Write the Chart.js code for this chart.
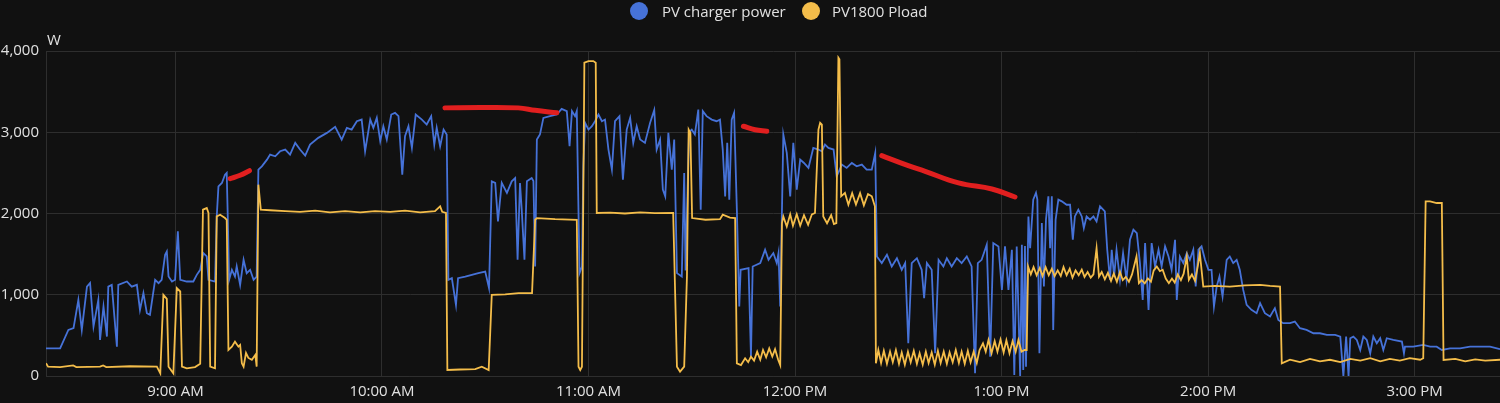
<!DOCTYPE html>
<html>
<head>
<meta charset="utf-8">
<script src="https://cdn.jsdelivr.net/npm/chart.js@4.4.1/dist/chart.umd.min.js"></script>
<style>
html,body{margin:0;padding:0;background:#111111;}
#wrap{position:relative;width:1500px;height:403px;overflow:hidden;background:#111111;}
#c{position:absolute;left:0;top:0;}
.lg-dot{position:absolute;top:2px;width:18px;height:18px;border-radius:50%;}
.lg-txt{position:absolute;top:0;height:22px;line-height:22px;font-family:"Open Sans",sans-serif;font-size:15px;color:#e1e1e1;white-space:nowrap;}
</style>
</head>
<body>
<div id="wrap">
  <canvas id="c" width="1500" height="403"></canvas>
  <div id="legend"></div>
</div>
<script>
// ---------------- DATA (times are minutes after 08:00, values in W) ----------------
const seriesNames = ["PV charger power", "PV1800 Pload"];
const unitLabel = "W";
const axisStartMin = 22.4;   // 8:22 AM
const axisEndMin = 444.8;    // 3:24 PM
const hourTickMin = [60, 120, 180, 240, 300, 360, 420]; // 9:00 AM ... 3:00 PM
const yTicks = [0, 1000, 2000, 3000, 4000];

const pvChargerMin = [
22.4,26.5,28.9,30.4,31.8,32.8,34.3,35.2,36.2,37.6,
38.1,39.1,40.1,40.5,41.5,43.0,43.4,45.9,47.3,48.8,
49.7,50.7,51.7,52.6,54.1,55.1,56.0,57.0,57.5,58.0,
59.0,59.9,60.7,61.4,63.3,65.2,66.2,67.2,68.1,69.1,
69.6,71.5,72.0,72.5,73.5,74.4,74.9,75.2,75.6,76.4,
77.3,77.8,78.8,79.8,80.7,81.7,82.7,83.6,84.1,85.1,
86.6,87.5,89.0,90.4,91.9,93.3,94.8,96.2,97.7,99.1,
101.5,104.0,106.4,108.3,109.8,111.2,112.7,114.1,115.1,116.6,
117.5,118.5,119.5,120.4,121.4,122.7,123.8,124.8,125.9,126.7,
127.7,128.7,129.8,131.6,133.0,134.3,135.2,135.9,136.9,137.9,
138.8,139.3,140.3,141.5,142.1,144.2,146.1,148.0,150.0,151.1,
151.9,152.9,153.7,154.8,156.3,157.7,158.7,159.4,160.1,160.6,
161.4,162.1,163.5,164.0,164.5,165.0,165.9,166.9,168.8,170.8,
172.2,173.7,174.5,175.2,176.1,176.6,177.4,178.1,178.5,179.0,
180.0,181.0,181.9,182.9,183.9,184.8,185.8,186.8,187.7,189.0,
190.0,191.1,192.1,193.0,194.0,195.0,196.4,197.9,199.1,199.8,
200.8,201.6,202.3,203.2,204.2,204.9,205.7,207.1,207.8,208.2,
209.2,210.0,210.9,211.9,212.6,213.2,214.3,215.8,217.2,218.2,
219.0,219.7,220.3,220.9,221.6,222.3,223.1,223.8,224.2,226.5,
227.2,227.7,229.9,231.3,232.3,233.7,234.7,235.2,235.7,236.6,
237.6,238.6,239.5,240.5,241.5,242.6,243.9,245.3,246.8,247.8,
248.7,249.7,251.2,252.1,253.6,255.0,256.5,257.9,259.4,260.8,
262.3,263.3,263.8,265.2,266.7,268.1,269.6,271.0,272.0,272.9,
273.9,275.4,276.8,277.5,278.3,279.7,280.7,281.7,283.1,284.1,
285.5,287.0,288.4,289.9,291.3,292.3,293.1,294.2,295.7,296.7,
297.6,299.1,300.1,301.0,302.0,303.0,303.7,304.4,305.4,305.9,
306.3,306.8,307.1,307.8,308.3,309.2,310.0,310.4,311.0,311.7,
312.3,312.9,313.6,314.1,314.6,315.0,315.7,316.5,317.5,318.9,
319.9,320.7,321.3,322.3,323.3,323.9,324.7,325.7,326.7,327.6,
328.6,330.0,330.7,331.5,332.0,332.7,333.4,334.4,335.3,336.3,
337.3,338.3,339.3,340.2,341.0,341.7,342.7,343.6,344.6,345.6,
346.5,347.5,348.5,349.4,350.4,350.9,351.8,352.8,353.8,354.7,
355.7,356.4,357.2,358.1,359.1,360.1,361.0,361.7,362.5,363.3,
364.2,365.4,366.3,367.3,368.3,369.2,370.2,371.2,372.6,374.1,
375.1,376.5,378.0,379.4,380.4,381.8,383.8,385.2,386.7,388.6,
390.6,392.5,394.5,396.9,398.4,399.3,400.1,400.8,401.3,402.2,
403.2,404.2,405.1,406.1,407.1,408.0,409.0,410.0,410.9,411.9,
413.8,416.3,416.9,417.2,419.6,422.5,424.5,426.4,427.9,430.3,
433.2,436.1,439.0,441.9,444.8
];
const pvChargerW = [
340,340,567,590,937,567,1100,1145,608,937,
444,855,485,1100,1122,361,1122,1163,1100,1122,
814,1020,773,752,1184,1143,1184,1492,1533,1224,
1163,1184,1780,1184,1163,1163,1245,1307,1513,1472,
1184,1163,1964,2334,2376,2478,2499,1964,1184,1307,
1224,1348,1122,1430,1266,1307,1184,1224,2540,2581,
2663,2725,2704,2766,2787,2725,2869,2787,2713,2848,
2931,2992,3066,2910,3054,3033,3136,3156,2766,3156,
3054,3177,2890,3074,2910,3218,3239,3198,2478,2951,
3074,2807,3218,3156,3095,3198,2848,3054,2828,3033,
2972,1184,1204,875,1204,1224,1245,1266,1286,1081,
2396,2376,1903,2376,2253,2396,2437,1430,2376,2047,
1430,2396,2437,2400,1348,2910,2972,3177,3198,3218,
3288,3260,2828,3260,3198,3260,1266,1348,2581,3116,
3033,3074,3136,3218,3136,3156,2787,2540,3136,3198,
2417,3033,3177,2869,3074,2910,2869,3116,3272,2787,
2910,2294,2211,2992,2540,2910,1266,1224,2499,1300,
3000,3033,2972,3280,2047,3260,3198,3156,3136,3156,
2787,2211,2869,2170,3156,3239,2047,855,1307,1328,
238,1348,1390,1554,1430,1513,1390,1513,855,2972,
2746,2211,2869,2294,2663,2622,2561,2807,2787,2766,
2848,2807,2787,2458,2602,2561,2622,2581,2602,2540,
2540,2746,1471,1390,1492,1348,1450,1307,1390,403,
1390,1450,1307,958,1390,1307,280,1430,1348,1450,
1348,1450,1390,1471,1348,33,1390,1430,1615,238,
1636,1595,1060,1595,1060,1554,12,1595,0,1615,
74,1600,115,1964,1574,2170,2253,2170,280,1882,
1101,1923,2211,1574,2211,567,1923,2170,2150,2108,
2108,1677,1964,2047,1964,1821,1964,1923,1964,1903,
2088,2027,1554,1184,1554,1225,1554,1184,1513,1184,
1677,1800,1759,1390,937,1636,814,1636,1348,1554,
1348,1595,1471,1307,1677,937,1471,1390,1513,1430,
1554,1101,1554,1595,1430,1307,1307,855,1101,1224,
978,1430,1471,1390,1430,1307,1060,875,814,773,
896,773,732,835,690,650,650,670,588,567,
526,526,506,506,485,0,485,0,465,485,
444,320,485,444,280,485,403,465,320,465,
444,424,280,361,361,382,361,361,320,341,
341,361,361,361,330
];

const ploadMin = [
22.4,23.0,26.5,30.3,31.2,38.1,39.0,39.9,46.8,54.6,
55.6,56.5,57.5,58.0,59.4,60.4,61.4,61.9,63.3,65.7,
67.2,68.0,69.1,69.6,70.1,71.5,72.0,73.0,74.4,74.9,
75.4,76.4,77.3,78.3,78.8,79.3,79.8,80.5,81.2,82.2,
83.2,83.6,84.1,84.8,87.5,91.9,96.2,100.6,104.9,109.3,
113.7,118.0,122.4,126.7,131.1,135.4,136.9,137.5,138.6,139.0,
142.7,147.1,149.0,151.0,151.9,155.8,159.7,163.6,164.5,165.0,
170.3,176.6,177.1,177.6,178.1,178.8,180.0,181.4,182.1,182.4,
186.3,190.6,195.0,199.3,204.6,205.7,206.6,207.8,208.6,209.1,
209.6,210.1,214.0,218.2,219.0,221.1,222.6,223.1,224.3,225.5,
226.4,227.2,228.1,229.0,229.9,230.7,231.6,232.5,233.4,234.2,
235.1,235.7,236.2,236.6,237.6,238.6,239.4,240.5,241.5,242.6,
243.8,244.9,245.8,246.8,247.3,247.8,248.2,249.3,250.5,251.3,
252.0,252.6,252.9,253.4,254.5,255.5,256.6,257.7,258.9,260.0,
261.2,262.3,263.2,263.5,264.2,265.0,265.8,266.7,267.6,268.4,
269.3,270.2,271.0,271.9,272.8,273.6,274.5,275.4,276.2,277.1,
278.0,278.8,279.7,280.6,281.5,282.3,283.2,284.1,284.9,285.8,
286.7,287.6,288.4,289.3,290.2,291.0,291.9,292.8,293.6,294.6,
295.4,296.2,297.1,298.0,298.8,299.7,300.6,301.4,302.3,303.2,
304.1,304.9,305.8,306.7,307.3,307.7,308.5,309.3,310.2,311.1,
311.9,312.8,313.7,314.6,315.4,316.3,317.2,318.0,318.9,319.8,
320.6,321.5,322.4,323.3,324.1,325.0,325.9,326.7,327.6,328.3,
329.1,330.0,330.9,331.8,332.6,333.5,334.4,335.2,336.1,337.0,
337.9,339.2,339.9,340.7,341.6,342.5,343.4,344.2,345.1,346.0,
346.8,347.7,348.6,349.5,350.3,351.2,352.1,352.9,353.8,354.4,
355.3,356.2,357.0,357.6,358.6,362.0,366.3,370.7,375.1,378.0,
380.9,381.4,383.8,386.7,389.6,392.5,395.4,398.4,401.3,404.2,
407.1,410.0,412.8,415.7,418.6,421.6,422.5,423.2,424.5,426.4,
427.9,428.4,431.8,434.7,437.6,440.5,444.8
];
const ploadW = [
156,115,110,130,110,115,130,110,120,115,
33,999,950,115,33,1081,1040,115,95,110,
150,2047,2067,2006,115,95,1964,1985,1944,1923,
320,361,423,361,382,156,115,283,222,200,
260,115,2355,2047,2040,2030,2020,2035,2015,2030,
2015,2030,2020,2035,2015,2030,2088,2020,2006,74,
80,85,115,74,999,1005,1020,1020,1923,1944,
1930,1923,115,74,115,3856,3876,3876,3856,2006,
2010,2000,2015,2005,2006,115,53,115,1224,3033,
2992,1944,1923,1930,1985,1950,1944,156,135,218,
170,238,190,300,200,320,230,340,240,330,
200,135,1882,1964,1841,1990,1850,1990,1850,1980,
1860,1990,2006,3033,3116,3095,1964,1880,1980,1870,
1882,3917,3897,2211,2253,2108,2250,2110,2250,2100,
2240,2211,2088,156,320,160,310,150,300,170,
320,150,290,140,300,170,310,150,280,140,
300,160,290,140,310,160,300,150,290,170,
320,160,300,150,310,170,300,160,320,403,
300,444,280,430,300,450,290,440,280,430,
300,444,300,320,320,1348,1250,1340,1240,1330,
1230,1340,1240,1320,1230,1300,1230,1340,1240,1320,
1210,1300,1240,1310,1220,1280,1210,1250,1574,1224,
1280,1190,1270,1170,1260,1160,1280,1180,1220,1160,
1250,1471,1143,1180,1140,1200,1160,1300,1348,1290,
1307,1200,1143,1200,1150,1250,1180,1260,1471,1184,
1250,1170,1350,1513,1101,1110,1100,1115,1122,1110,
1101,156,200,170,210,180,200,170,210,190,
220,180,210,190,220,200,218,2150,2150,2129,
2129,197,210,180,205,190,200
];

// hand-drawn red marks on the picture
const markAMin = [75.9, 78.8, 81.5];
const markAW   = [2429, 2470, 2527];
const markBMin = [138.3, 148.5, 159.6, 164.5, 170.8];
const markBW   = [3300, 3305, 3300, 3270, 3239];
const markCMin = [225.0, 228.4, 231.8];
const markCW   = [3074, 3030, 3012];
const markDMin = [265.2, 272.9, 277.8, 287.5, 297.2, 303.9];
const markDW   = [2713, 2589, 2519, 2376, 2302, 2203];

// ---------------- STYLE ----------------
const BASE_MIN = 8 * 60;
const BLUE = "#4672d8";
const YELLOW = "#f4bd4a";
const RED = "#e11f1f";
const GRID = "#2e2e2e";
const TXT = "#e1e1e1";
const FONT = "'Open Sans', sans-serif";

function pts(mins, vals) { return mins.map((m, i) => ({ x: BASE_MIN + m, y: vals[i] })); }
function fmtTime(v) {
  const h = Math.floor(v / 60), m = Math.round(v - h * 60);
  const ampm = h >= 12 ? "PM" : "AM";
  const h12 = ((h + 11) % 12) + 1;
  return h12 + ":" + String(m).padStart(2, "0") + " " + ampm;
}

// HTML legend (real text)
(function () {
  const lg = document.getElementById("legend");
  const items = [
    { color: BLUE, dot: 630, txt: 662, name: seriesNames[0] },
    { color: YELLOW, dot: 801.5, txt: 832, name: seriesNames[1] }
  ];
  items.forEach(it => {
    const d = document.createElement("div");
    d.className = "lg-dot"; d.style.left = it.dot + "px"; d.style.background = it.color;
    const t = document.createElement("div");
    t.className = "lg-txt"; t.style.left = it.txt + "px"; t.textContent = it.name;
    lg.appendChild(d); lg.appendChild(t);
  });
})();

const unitPlugin = {
  id: "unitLabel",
  afterDraw(chart) {
    const { ctx, chartArea } = chart;
    ctx.save();
    ctx.fillStyle = TXT;
    ctx.font = "15px " + FONT;
    ctx.textAlign = "left";
    ctx.textBaseline = "middle";
    ctx.fillText(unitLabel, chartArea.left + 1, chartArea.top - 10);
    ctx.restore();
  }
};

const markStyle = { borderColor: RED, borderWidth: 5, borderCapStyle: "round", borderJoinStyle: "round", pointRadius: 0, tension: 0.4, order: 0 };

new Chart(document.getElementById("c"), {
  type: "line",
  data: {
    datasets: [
      { label: seriesNames[0], data: pts(pvChargerMin, pvChargerW), borderColor: BLUE, backgroundColor: BLUE, borderWidth: 1.8, pointRadius: 0, tension: 0, order: 3 },
      { label: seriesNames[1], data: pts(ploadMin, ploadW), borderColor: YELLOW, backgroundColor: YELLOW, borderWidth: 1.8, pointRadius: 0, tension: 0, order: 2 },
      Object.assign({ label: "mark A", data: pts(markAMin, markAW) }, markStyle),
      Object.assign({ label: "mark B", data: pts(markBMin, markBW) }, markStyle),
      Object.assign({ label: "mark C", data: pts(markCMin, markCW) }, markStyle),
      Object.assign({ label: "mark D", data: pts(markDMin, markDW) }, markStyle)
    ]
  },
  options: {
    responsive: false,
    animation: false,
    devicePixelRatio: 1,
    layout: { padding: { top: 51, left: 0, right: 0, bottom: 0 } },
    plugins: { legend: { display: false }, tooltip: { enabled: false } },
    scales: {
      x: {
        type: "linear",
        min: BASE_MIN + axisStartMin,
        max: BASE_MIN + axisEndMin,
        afterBuildTicks: s => { s.ticks = hourTickMin.map(m => ({ value: BASE_MIN + m })); },
        afterFit: s => { s.height = 27; },
        grid: { color: GRID, drawTicks: false },
        border: { color: GRID },
        ticks: { color: TXT, font: { family: FONT, size: 15 }, padding: 7, maxRotation: 0, autoSkip: false, callback: v => fmtTime(v) }
      },
      y: {
        min: 0, max: 4000,
        afterBuildTicks: s => { s.ticks = yTicks.map(v => ({ value: v })); },
        afterFit: s => { s.width = 46; },
        grid: { color: GRID, drawTicks: false },
        border: { color: GRID },
        ticks: { color: TXT, font: { family: FONT, size: 15 }, padding: 7, callback: v => v.toLocaleString("en-US") }
      }
    }
  },
  plugins: [unitPlugin]
});
</script>
</body>
</html>
